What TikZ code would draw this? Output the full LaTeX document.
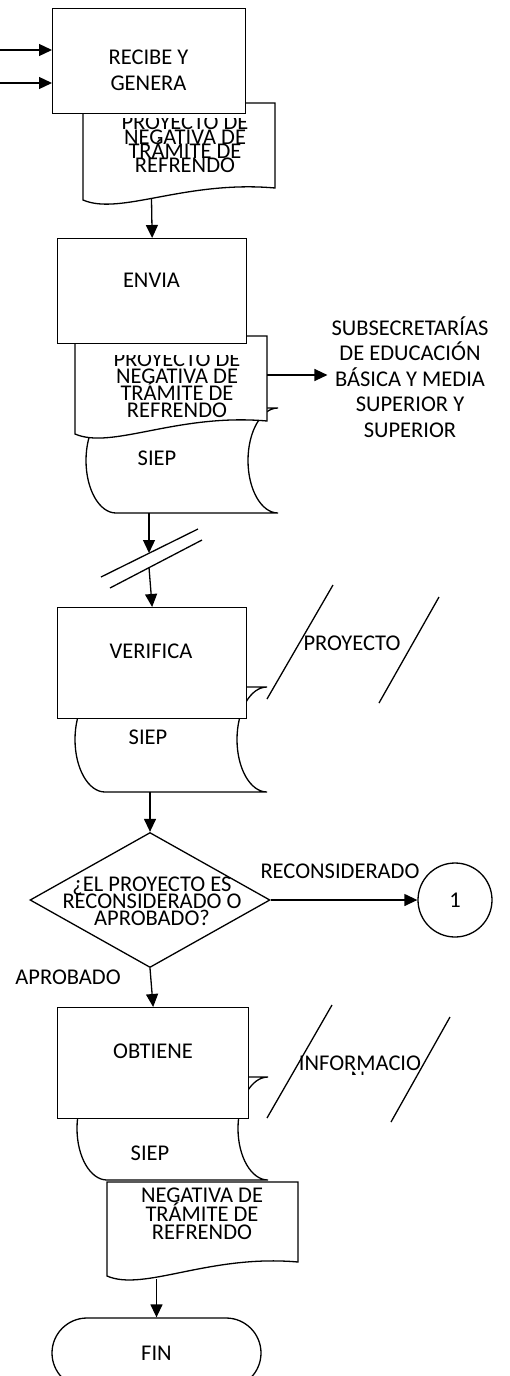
\documentclass[tikz,border=0pt]{standalone}
\usepackage{fontspec}
\setmainfont{Carlito}
\usetikzlibrary{arrows.meta,shapes.geometric}
\lineskiplimit=-100pt
\begin{document}
\begin{tikzpicture}[x=1pt,y=-1pt,
  ln/.style={line width=1.3pt},
  arr/.style={ln,-{Triangle[length=13pt,width=12pt]}},
  box/.style={draw,ln,fill=white,inner sep=0pt,anchor=north west},
  shp/.style={draw,ln,fill=white},
  txt/.style={inner sep=0pt,font=\fontsize{22.5}{27}\selectfont},
  btxt/.style={txt,anchor=base},
  mtxt/.style={inner sep=0pt,align=center,font=\fontsize{22.5}{#1}\selectfont}]
\useasboundingbox (0,0) rectangle (509,1376);

% ---------- RECIBE Y GENERA ----------
\draw[shp] (83,103) -- (275,103) -- (275,188) .. controls (185,180) and (120,216) .. (83,200) -- cycle;
\node[box,minimum width=193pt,minimum height=105pt] (recibe) at (52,8) {};
\node[mtxt=26pt] (trecibe) at (148.5,70.75) {RECIBE Y\\GENERA};
\begin{scope}
\clip (84,118) rectangle (274,186);
\node[mtxt=14.33pt] (tdoc1) at (185,144.25) {PROYECTO DE\\NEGATIVA DE\\TRÁMITE DE\\REFRENDO};
\end{scope}
\coordinate (in1) at (0,50);
\coordinate (in2) at (0,83);
\draw[arr] (in1) -- (in1 -| recibe.west);
\draw[arr] (in2) -- (in2 -| recibe.west);

% ---------- ENVIA ----------
\draw[shp] (116,408) -- (278,408) .. controls (261.4,408) and (248,431.5) .. (248,460.5)
  .. controls (248,489.5) and (261.4,513) .. (278,513) -- (116,513)
  .. controls (99.4,513) and (86,489.5) .. (86,460.5)
  .. controls (86,431.5) and (99.4,408) .. (116,408) -- cycle;
\draw[shp] (75,336) -- (267,336) -- (267,421) .. controls (177,413) and (112,450) .. (75,434) -- cycle;
\node[box,minimum width=189pt,minimum height=105pt] (envia) at (57,238) {};
\node[btxt] (tenvia) at (151.5,287) {ENVIA};
\begin{scope}
\clip (76,355) rectangle (266,430);
\node[mtxt=17pt] (tdoc2) at (177,385.25) {PROYECTO DE\\NEGATIVA DE\\TRÁMITE DE\\REFRENDO};
\end{scope}
\node[btxt] (tsiep2) at (157,465) {SIEP};
\node[mtxt=25.5pt] (subs) at (410,376.7) {SUBSECRETARÍAS\\DE EDUCACIÓN\\BÁSICA Y MEDIA\\SUPERIOR Y\\SUPERIOR};
\coordinate (d1b) at (151.5,199);
\draw[arr] (d1b) -- (envia.north);
\coordinate (d2e) at (267,375);
\draw[arr] (d2e) -- ([xshift=-4pt]subs.west |- d2e);

% ---------- connector with break ----------
\coordinate (s2b) at (149,513);
\coordinate (brk1) at (149,553);
\coordinate (brk2) at (149,567.5);
\coordinate (sla) at (101,577);
\coordinate (slb) at (198,529);
\coordinate (slc) at (110,588);
\coordinate (sld) at (202,540);
\draw[arr] (s2b) -- (brk1);
\draw[ln] (sla) -- (slb);
\draw[ln] (slc) -- (sld);

% ---------- VERIFICA ----------
\draw[shp] (105,687) -- (267,687) .. controls (250.4,687) and (237,710.5) .. (237,739.5)
  .. controls (237,768.5) and (250.4,792) .. (267,792) -- (105,792)
  .. controls (88.4,792) and (75,768.5) .. (75,739.5)
  .. controls (75,710.5) and (88.4,687) .. (105,687) -- cycle;
\node[box,minimum width=189pt,minimum height=111pt] (verifica) at (57,607) {};
\node[btxt] (tverifica) at (151,658) {VERIFICA};
\node[btxt] (tsiep3) at (148,744) {SIEP};
\draw[arr] (brk2) -- (verifica.north);
\coordinate (p1a) at (267,699);
\coordinate (p1b) at (333,585);
\coordinate (p2a) at (379,703);
\coordinate (p2b) at (439,597);
\draw[ln] (p1a) -- (p1b);
\draw[ln] (p2a) -- (p2b);
\node[btxt] (tproy) at (352,650) {PROYECTO};

% ---------- decision ----------
\node[draw,ln,diamond,minimum width=240pt,minimum height=135pt,inner sep=0pt] (dec) at (150,900) {};
\node[mtxt=17pt] (tdec) at (152,901.75) {¿EL PROYECTO ES\\RECONSIDERADO O\\APROBADO?};
\coordinate (s3b) at (150,792);
\draw[arr] (s3b) -- (dec.north);
\node[draw,ln,circle,minimum size=74pt,inner sep=0pt,txt] (c1) at (455,900) {1};
\draw[arr] (dec.east) -- (c1.west);
\node[btxt] (trecons) at (340,878) {RECONSIDERADO};
\node[btxt] (taprob) at (68,984) {APROBADO};

% ---------- OBTIENE ----------
\draw[shp] (107,1077) -- (268,1077) .. controls (251.4,1077) and (238,1100.1) .. (238,1128.5)
  .. controls (238,1156.9) and (251.4,1180) .. (268,1180) -- (107,1180)
  .. controls (90.4,1180) and (77,1156.9) .. (77,1128.5)
  .. controls (77,1100.1) and (90.4,1077) .. (107,1077) -- cycle;
\node[box,minimum width=191pt,minimum height=111pt] (obtiene) at (57,1007) {};
\node[btxt] (tobtiene) at (153,1058) {OBTIENE};
\node[btxt] (tsiep4) at (150,1160) {SIEP};
\draw[arr] (dec.south) -- (obtiene.north);
\coordinate (q1a) at (267,1118);
\coordinate (q1b) at (332,1005);
\coordinate (q2a) at (391,1122);
\coordinate (q2b) at (450,1017);
\draw[ln] (q1a) -- (q1b);
\draw[ln] (q2a) -- (q2b);
\node[btxt] (tinfo) at (360,1070) {INFORMACIO};
\begin{scope}
\clip (340,1071) rectangle (380,1074);
\node[btxt] (tinfon) at (358,1086.5) {N};
\end{scope}

% ---------- final document and FIN ----------
\draw[shp] (107,1182) -- (298,1182) -- (298,1262) .. controls (209,1254) and (144,1292) .. (107,1276) -- cycle;
\node[mtxt=18.5pt] (tdoc3) at (202,1214.25) {NEGATIVA DE\\TRÁMITE DE\\REFRENDO};
\node[draw,ln,rounded corners=35pt,minimum width=209pt,minimum height=70pt,inner sep=0pt,txt] (fin) at (156.5,1353) {FIN};
\coordinate (d3b) at (156.5,1279);
\draw[arr] (d3b) -- (fin.north);
\end{tikzpicture}
\end{document}
